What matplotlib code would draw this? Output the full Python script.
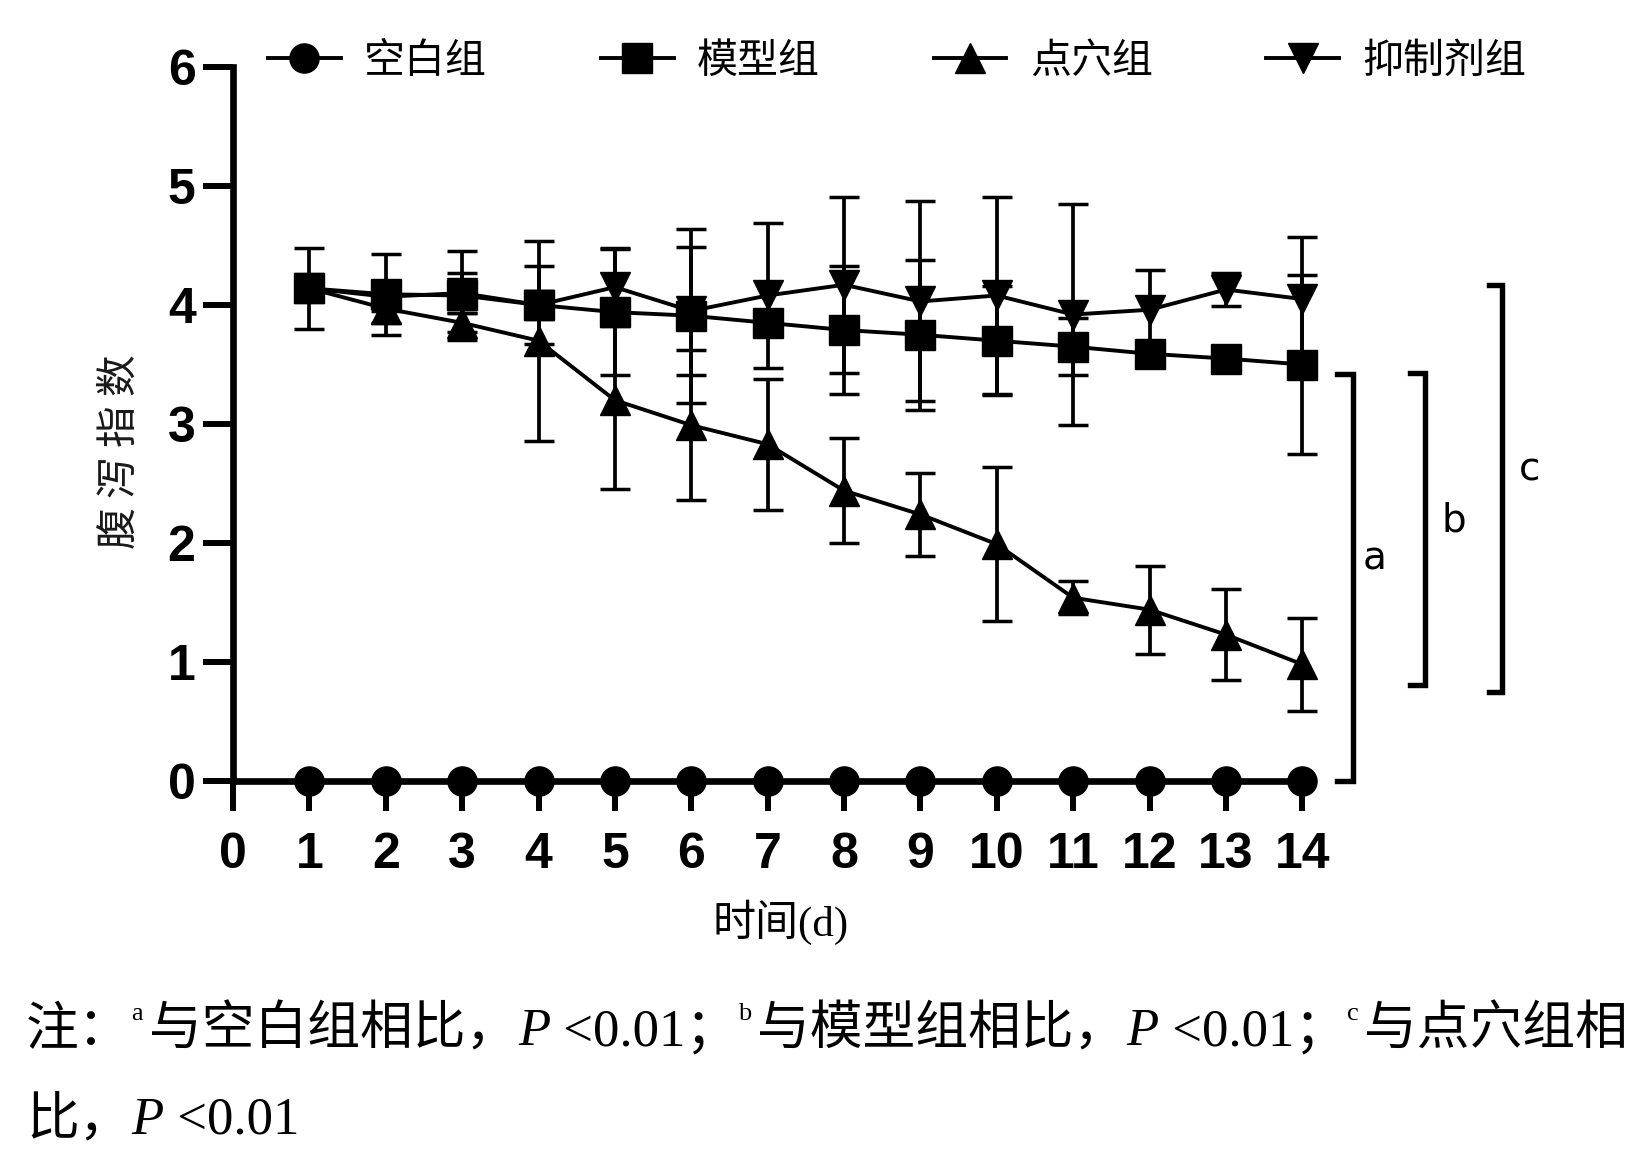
import matplotlib
matplotlib.use('Agg')
import matplotlib.pyplot as plt
from matplotlib.lines import Line2D

# ---------------- data ----------------
days = [1, 2, 3, 4, 5, 6, 7, 8, 9, 10, 11, 12, 13, 14]
blank_mean = [0, 0, 0, 0, 0, 0, 0, 0, 0, 0, 0, 0, 0, 0]
model_mean = [4.14, 4.09, 4.08, 4.00, 3.94, 3.91, 3.85, 3.79, 3.75, 3.70, 3.65, 3.59, 3.55, 3.50]
model_sd = [0.34, 0.34, 0.37, 0.33, 0.53, 0.73, 0.10, 0.54, 0.63, 0.46, 0.24, 0.10, 0.08, 0.75]
acu_mean = [4.14, 3.97, 3.85, 3.70, 3.20, 2.99, 2.83, 2.44, 2.24, 1.99, 1.54, 1.44, 1.23, 0.98]
acu_sd = [0.10, 0.12, 0.08, 0.84, 0.75, 0.63, 0.55, 0.44, 0.35, 0.645, 0.14, 0.37, 0.38, 0.39]
inh_mean = [4.14, 4.07, 4.10, 4.00, 4.15, 3.95, 4.08, 4.17, 4.03, 4.08, 3.92, 3.96, 4.13, 4.05]
inh_sd = [0.10, 0.12, 0.17, 0.12, 0.33, 0.54, 0.61, 0.74, 0.84, 0.83, 0.93, 0.33, 0.14, 0.52]

group_names = ['空白组', '模型组', '点穴组', '抑制剂组']
xticks = list(range(0, 15))
yticks = [0, 1, 2, 3, 4, 5, 6]
ylabel = '腹 泻 指 数'
xlabel = '时间(d)'

# significance brackets: label, top, bottom, label y
brackets = [('a', 3.42, 0.0, 1.87), ('b', 3.43, 0.81, 2.19), ('c', 4.17, 0.75, 2.62)]

# ---------------- figure ----------------
fig = plt.figure(figsize=(16.46, 11.59), dpi=100)
ax = fig.add_axes([0.14156, 0.32614, 0.85844, 0.61605])
ax.set_xlim(0, 18.5)
ax.set_ylim(0, 6)

LW = 2.8
MS = 21
err_kw = dict(elinewidth=2.7, capsize=10.5, capthick=2.5)

ax.plot(days, blank_mean, '-', marker='o', color='k', lw=LW, ms=MS, clip_on=False, zorder=5)
ax.errorbar(days, model_mean, yerr=model_sd, fmt='-', marker='s', color='k', lw=LW, ms=MS,
            clip_on=False, zorder=4, **err_kw)
ax.errorbar(days, acu_mean, yerr=acu_sd, fmt='-', marker='^', color='k', lw=LW, ms=MS,
            clip_on=False, zorder=4, **err_kw)
ax.errorbar(days, inh_mean, yerr=inh_sd, fmt='-', marker='v', color='k', lw=LW, ms=MS,
            clip_on=False, zorder=4, **err_kw)

# axes styling
for s in ['top', 'right']:
    ax.spines[s].set_visible(False)
ax.spines['left'].set_linewidth(4.8)
ax.spines['bottom'].set_linewidth(4.8)
ax.spines['left'].set_bounds(0, 6)
ax.spines['bottom'].set_bounds(0, 14)
ax.set_xticks(xticks)
ax.set_yticks(yticks)
ax.tick_params(axis='both', length=21.5, width=4.3, direction='out')
ax.tick_params(axis='x', pad=15)
ax.tick_params(axis='y', pad=5.5)
for lab in ax.get_xticklabels() + ax.get_yticklabels():
    lab.set_fontfamily('Liberation Sans')
    lab.set_fontweight('bold')
    lab.set_fontsize(36)

# brackets
bx = [(14.46, 14.66, 14.95), (15.41, 15.60, 15.98), (16.45, 16.62, 16.97)]
for (lab, top, bot, ly), (x0, x1, xt) in zip(brackets, bx):
    ax.plot([x0, x1, x1, x0], [top, top, bot, bot], color='k', lw=3.9,
            solid_joinstyle='miter', clip_on=False, zorder=3)
    ax.text(xt, ly, lab, ha='center', va='center', fontsize=28,
            family='DejaVu Sans', clip_on=False)

# axis labels
fig.text(120 / 1646, 1 - 452 / 1159, ylabel, rotation=90, ha='center', va='center',
         fontsize=30, family=['Noto Sans CJK SC', 'DejaVu Sans'], color='#1a1a1a')
fig.text(781 / 1646, 1 - 922 / 1159, xlabel, ha='center', va='center',
         fontsize=31, family=['Liberation Serif', 'Noto Sans CJK SC'])

# legend
markers = ['o', 's', '^', 'v']
handles = [Line2D([], [], color='k', lw=LW, marker=m, ms=MS) for m in markers]
leg = fig.legend(handles, group_names, loc='center left', ncol=4,
                 bbox_to_anchor=(268 / 1646, 1 - 61 / 1159), frameon=False,
                 prop={'family': ['Noto Sans CJK SC', 'DejaVu Sans'], 'size': 29.5},
                 handlelength=1.78, handletextpad=0.57, columnspacing=2.77,
                 borderpad=0, borderaxespad=0, numpoints=1)

# footnote (chained text runs)
serif_cjk = ['Liberation Serif', 'Noto Sans CJK SC']
FS = 38


def chain(parts, x, y):
    base = fig.text(x, y, parts[0][0], fontsize=FS, family=serif_cjk, va='bottom', ha='left')
    prev = base
    dx = 0
    for s, kind in parts[1:]:
        if kind == 'sup':
            a = ax.annotate(s, xy=(1, 0), xycoords=(prev, base), xytext=(0, 22),
                            textcoords='offset points', va='bottom', ha='left', fontsize=19,
                            family='Liberation Serif', annotation_clip=False)
        elif kind == 'it':
            a = ax.annotate(s, xy=(1, 0), xycoords=(prev, base), xytext=(dx, 0),
                            textcoords='offset points', va='bottom', ha='left', fontsize=FS,
                            family='Liberation Serif', style='italic', annotation_clip=False)
        else:
            a = ax.annotate(s, xy=(1, 0), xycoords=(prev, base), xytext=(dx, 0),
                            textcoords='offset points', va='bottom', ha='left', fontsize=FS,
                            family=serif_cjk, annotation_clip=False)
        dx = 4 if kind == 'sup' else 0
        prev = a


line1 = [('注：', 'n'), ('a', 'sup'), ('与空白组相比，', 'n'), ('P', 'it'), (' <0.01；', 'n'),
         ('b', 'sup'), ('与模型组相比，', 'n'), ('P', 'it'), (' <0.01；', 'n'),
         ('c', 'sup'), ('与点穴组相', 'n')]
line2 = [('比，', 'n'), ('P', 'it'), (' <0.01', 'n')]
chain(line1, 26 / 1646, 1 - 1056 / 1159)
chain(line2, 26 / 1646, 1 - 1145 / 1159)

fig.savefig('out.png', dpi=100)
